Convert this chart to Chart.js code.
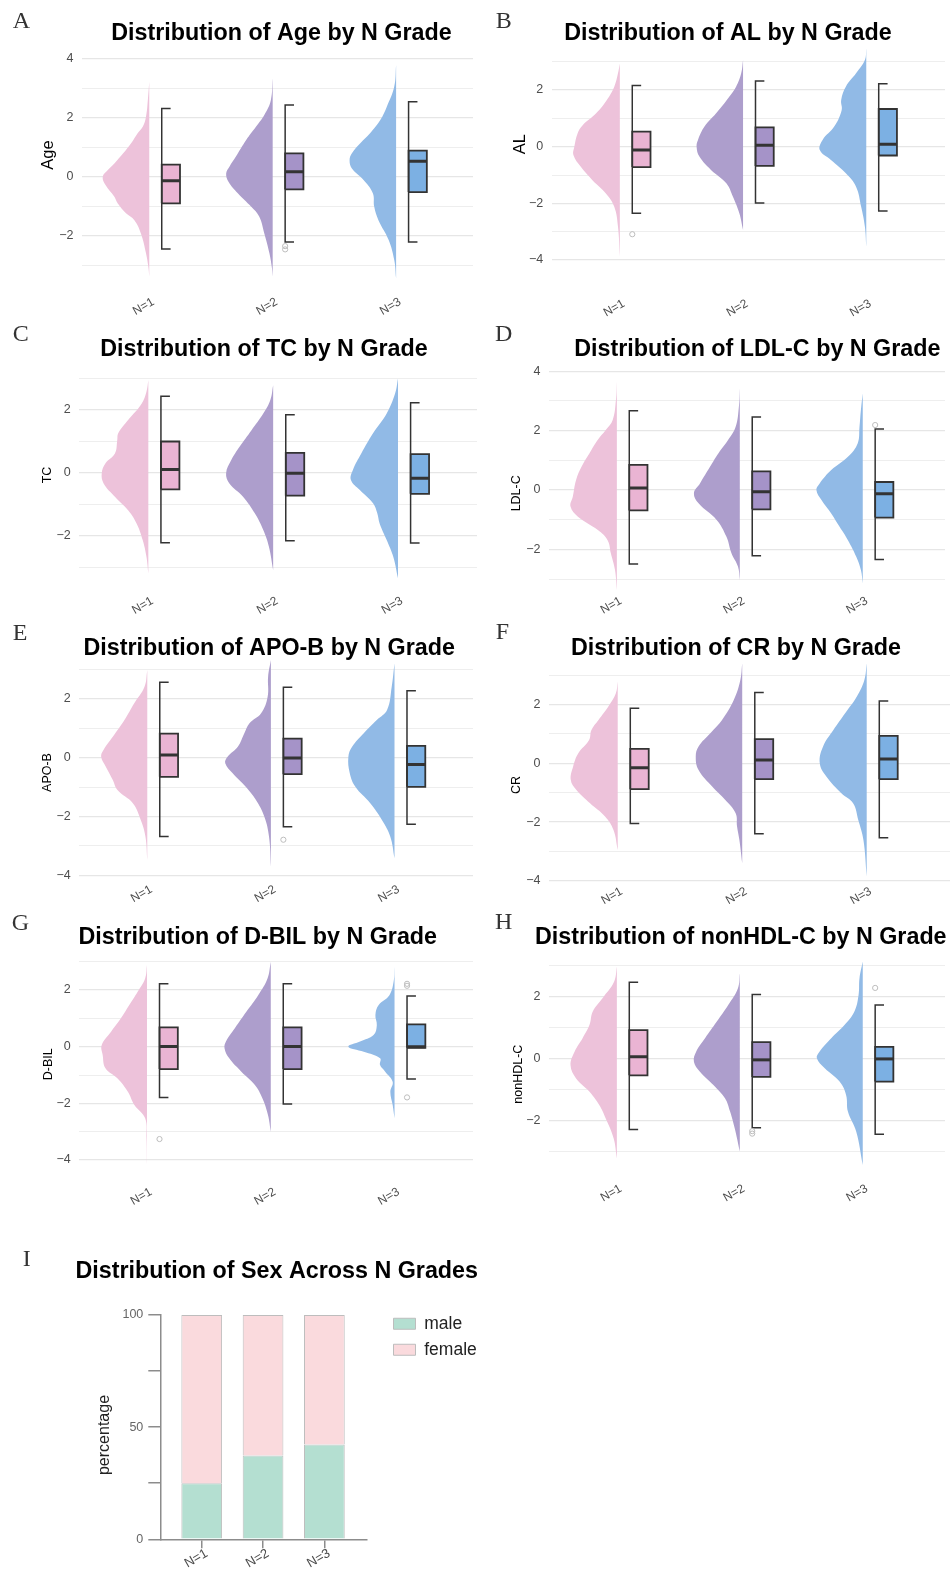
<!DOCTYPE html>
<html>
<head>
<meta charset="utf-8">
<title>Distribution by N Grade</title>
<script src="https://cdn.jsdelivr.net/npm/chart.js@4.4.1/dist/chart.umd.min.js"></script>
<style>
  html, body { margin: 0; padding: 0; background: #ffffff; }
  #board { position: relative; width: 950px; height: 1571px; overflow: hidden; background: #ffffff; }
  #board canvas { position: absolute; }
</style>
</head>
<body>
<div id="board"></div>
<script>
// ---------------- data ----------------
const grades = ['N=1', 'N=2', 'N=3'];

// density outlines: [value, relative half-width] from upper tip to lower tip
// box statistics: [lower whisker, Q1, median, Q3, upper whisker]

// Age
const ageDensity = [
  [[3.21,0],[2.6,.03],[2.03,.07],[1.69,.14],[1.47,.25],[1.13,.39],[.79,.56],[.45,.75],[.23,.89],[0,1],[-.28,.94],[-.68,.75],[-.9,.68],[-1.24,.5],[-1.47,.32],[-1.92,.18],[-2.59,.07],[-3.05,.02],[-3.38,0]],
  [[3.33,0],[2.59,.04],[2.09,.18],[1.69,.36],[1.24,.57],[.68,.79],[.34,.93],[.11,1],[-.17,.95],[-.56,.75],[-1.02,.46],[-1.35,.29],[-1.92,.18],[-2.59,.07],[-3.05,.02],[-3.38,0]],
  [[3.78,0],[3.05,.04],[2.37,.2],[1.92,.34],[1.47,.56],[1.13,.77],[.79,.95],[.56,1],[.28,.95],[-.11,.7],[-.56,.5],[-1.02,.47],[-1.47,.38],[-2.14,.16],[-2.82,.04],[-3.44,0]]
];
const ageBox = [[-2.45,-.90,-.135,.41,2.31],[-2.21,-.43,.17,.79,2.43],[-2.21,-.52,.52,.88,2.54]];
const ageOutliers = [[],[-2.35,-2.46],[]];
const ageTicks = [-3,-2,-1,0,1,2,3,4];
const ageTickLabels = ['','−2','','0','','2','','4'];

// AL
const alDensity = [
  [[2.94,0],[2.59,.04],[2.12,.12],[1.65,.28],[1.18,.51],[.76,.8],[.47,.91],[0,.98],[-.29,1],[-.71,.84],[-1.18,.59],[-1.65,.3],[-2.12,.12],[-2.82,.04],[-3.88,0]],
  [[3.06,0],[2.59,.04],[2.12,.15],[1.65,.35],[1.18,.58],[.71,.83],[.24,.97],[0,1],[-.35,.94],[-.82,.69],[-1.29,.36],[-1.76,.22],[-2.35,.08],[-2.94,0]],
  [[3.47,0],[3.06,.03],[2.59,.22],[2.12,.44],[1.65,.54],[1.29,.53],[.71,.69],[.24,.94],[-.12,1],[-.47,.76],[-.94,.44],[-1.41,.22],[-2.12,.11],[-2.82,.03],[-3.53,0]]
];
const alBox = [[-2.35,-.72,-.12,.53,2.16],[-1.99,-.68,.05,.68,2.32],[-2.27,-.31,.09,1.33,2.22]];
const alOutliers = [[-3.09],[],[]];
const alTicks = [-4,-3,-2,-1,0,1,2,3];
const alTickLabels = ['−4','','−2','','0','','2',''];

// TC
const tcDensity = [
  [[2.94,0],[2.57,.04],[2.2,.14],[1.67,.43],[1.25,.64],[1.04,.66],[.61,.71],[.3,.91],[-.02,.99],[-.34,.95],[-.76,.71],[-1.19,.43],[-1.61,.25],[-2.14,.12],[-2.67,.04],[-3.2,0]],
  [[2.78,0],[2.31,.06],[1.88,.21],[1.35,.46],[.83,.71],[.4,.89],[-.02,1],[-.34,.93],[-.76,.64],[-1.29,.39],[-1.82,.21],[-2.35,.09],[-3.09,0]],
  [[2.99,0],[2.52,.06],[1.88,.24],[1.25,.53],[.61,.78],[.08,.96],[-.23,1],[-.55,.81],[-.97,.53],[-1.29,.44],[-1.61,.39],[-2.14,.24],[-2.67,.1],[-3.35,0]]
];
const tcBox = [[-2.22,-.53,.10,.99,2.43],[-2.16,-.73,-.02,.63,1.84],[-2.23,-.67,-.18,.59,2.22]];
const tcOutliers = [[],[],[]];
const tcTicks = [-3,-2,-1,0,1,2,3];
const tcTickLabels = ['','−2','','0','','2',''];

// LDL-C
const ldlDensity = [
  [[3.65,0],[3.03,.02],[2.36,.09],[2.02,.24],[1.69,.41],[1.24,.59],[.79,.76],[.34,.88],[-.22,.95],[-.56,1],[-.9,.84],[-1.35,.41],[-1.69,.2],[-2.13,.13],[-2.7,.04],[-3.37,0]],
  [[3.43,0],[2.81,.02],[2.13,.09],[1.69,.25],[1.24,.46],[.79,.64],[.22,.86],[-.11,.99],[-.45,.89],[-1.01,.5],[-1.57,.29],[-2.13,.18],[-2.58,.04],[-3.03,0]],
  [[3.26,0],[2.7,.04],[2.13,.07],[1.57,.11],[1.12,.32],[.67,.68],[.22,.93],[0,1],[-.34,.89],[-.79,.68],[-1.24,.5],[-1.69,.32],[-2.25,.14],[-2.7,.04],[-3.15,0]]
];
const ldlBox = [[-2.49,-.69,.07,.85,2.67],[-2.22,-.65,-.06,.63,2.46],[-2.34,-.93,-.13,.27,2.06]];
const ldlOutliers = [[],[],[2.19]];
const ldlTicks = [-3,-2,-1,0,1,2,3,4];
const ldlTickLabels = ['','−2','','0','','2','','4'];

// APO-B
const apoDensity = [
  [[2.98,0],[2.41,.06],[1.85,.28],[1.28,.49],[.71,.74],[.26,.94],[.03,.99],[-.31,.89],[-.76,.74],[-1.1,.64],[-1.55,.31],[-2.12,.14],[-2.68,.04],[-3.48,0]],
  [[3.32,0],[2.75,.06],[2.07,.07],[1.51,.21],[1.17,.46],[.83,.57],[.37,.71],[.03,.93],[-.19,.98],[-.53,.82],[-.99,.54],[-1.44,.32],[-2.01,.14],[-2.69,.04],[-3.71,0]],
  [[3.21,0],[2.41,.06],[1.62,.16],[1.28,.38],[.83,.66],[.37,.91],[.03,.99],[-.53,.96],[-.99,.84],[-1.55,.52],[-2.12,.27],[-2.69,.09],[-3.42,0]]
];
const apoBox = [[-2.68,-.65,.09,.82,2.57],[-2.35,-.56,-.01,.65,2.40],[-2.26,-.99,-.23,.40,2.28]];
const apoOutliers = [[],[-2.79],[]];
const apoTicks = [-4,-3,-2,-1,0,1,2,3];
const apoTickLabels = ['−4','','−2','','0','','2',''];

// CR
const crDensity = [
  [[2.78,0],[2.38,.04],[1.93,.2],[1.47,.41],[1.13,.56],[.79,.61],[.34,.84],[-.11,.95],[-.57,1],[-.91,.88],[-1.36,.59],[-1.81,.27],[-2.27,.09],[-2.95,0]],
  [[3.4,0],[2.83,.04],[2.15,.18],[1.47,.43],[1.02,.68],[.57,.93],[.23,.99],[-.23,.93],[-.79,.64],[-1.25,.36],[-1.7,.14],[-2.15,.11],[-2.61,.06],[-3.4,0]],
  [[3.4,0],[2.83,.05],[2.27,.21],[1.7,.46],[1.13,.71],[.57,.93],[0,1],[-.45,.86],[-1.02,.54],[-1.36,.29],[-1.93,.18],[-2.61,.07],[-3.85,0]]
];
const crBox = [[-2.05,-.88,-.15,.49,1.87],[-2.40,-.54,.11,.82,2.41],[-2.53,-.54,.15,.93,2.12]];
const crOutliers = [[],[],[]];
const crTicks = [-4,-3,-2,-1,0,1,2,3];
const crTickLabels = ['−4','','−2','','0','','2',''];

// D-BIL
const dbilDensity = [
  [[2.88,0],[2.41,.04],[1.94,.2],[1.47,.38],[1,.56],[.53,.77],[.06,.97],[-.29,.95],[-.76,.89],[-1.12,.63],[-1.59,.41],[-2.06,.27],[-2.53,.04],[-3.24,.01],[-4.18,0]],
  [[3,0],[2.41,.07],[1.82,.27],[1.24,.52],[.65,.77],[.18,.96],[-.06,.99],[-.41,.89],[-.88,.63],[-1.35,.34],[-1.82,.18],[-2.41,.06],[-3,0]],
  [[2.82,0],[2.29,.02],[1.82,.11],[1.47,.34],[1.12,.41],[.76,.38],[.41,.45],[.18,.74],[0,.99],[-.18,.66],[-.41,.31],[-.65,.31],[-.88,.2],[-1.24,.04],[-1.59,.09],[-2.06,.04],[-2.53,0]]
];
const dbilBox = [[-1.79,-.79,.01,.68,2.22],[-2.02,-.79,.01,.68,2.22],[-1.14,-.04,.0,.79,1.79]];
const dbilOutliers = [[-3.26],[],[2.15,2.22,-1.79]];
const dbilTicks = [-4,-3,-2,-1,0,1,2,3];
const dbilTickLabels = ['−4','','−2','','0','','2',''];

// nonHDL-C
const nhdlDensity = [
  [[2.96,0],[2.47,.06],[1.94,.31],[1.51,.52],[1.08,.59],[.65,.74],[.22,.91],[-.22,1],[-.65,.88],[-1.08,.59],[-1.51,.38],[-1.94,.24],[-2.58,.07],[-3.23,0]],
  [[2.74,0],[2.26,.04],[1.72,.25],[1.18,.5],[.65,.75],[.22,.94],[-.11,.99],[-.43,.86],[-.86,.57],[-1.29,.32],[-1.72,.21],[-2.26,.11],[-3.01,0]],
  [[3.12,0],[2.58,.07],[2.04,.09],[1.51,.18],[1.08,.39],[.65,.68],[.22,.93],[0,.99],[-.32,.82],[-.75,.5],[-1.18,.36],[-1.72,.32],[-2.37,.14],[-3.44,0]]
];
const nhdlBox = [[-2.30,-.55,.05,.91,2.45],[-2.24,-.60,-.05,.52,2.06],[-2.45,-.75,-.02,.37,1.72]];
const nhdlOutliers = [[],[-2.35,-2.43],[2.27]];
const nhdlTicks = [-3,-2,-1,0,1,2,3];
const nhdlTickLabels = ['','−2','','0','','2',''];

// Sex (percentage within each grade)
const sexLabels = ['male', 'female'];
const malePct = [25.0, 37.4, 42.3];
const femalePct = [75.0, 62.6, 57.7];
const pctTicks = [0, 25, 50, 75, 100];
const pctTickLabels = ['0', '', '50', '', '100'];

// ---------------- styling ----------------
Chart.defaults.font.family = "'Liberation Sans', Arial, Helvetica, sans-serif";
const SANS = "'Liberation Sans', Arial, Helvetica, sans-serif";
const SERIF = "'Liberation Serif', 'DejaVu Serif', serif";
const violinFill = ['#edc2da', '#ad9ecc', '#91bae6'];
const boxFill = ['#eab4d3', '#a593c8', '#7cb0e3'];
const INK = '#333333';
const TICK_GREY = '#4d4d4d';
const VIOLIN_HALF = 0.377, BOX_L = 0.101, BOX_R = 0.249, CAP = 0.072;

const board = document.getElementById('board');

// titles, panel letters and y-axis titles
const panelText = {
  id: 'panelText',
  afterDraw(chart, args, o) {
    const ctx = chart.ctx;
    ctx.save();
    ctx.textBaseline = 'middle';
    ctx.fillStyle = '#000';
    ctx.textAlign = 'center';
    ctx.font = 'bold 23.3px ' + SANS;
    ctx.fillText(o.title, o.titleX, o.titleY);
    ctx.textAlign = 'left';
    ctx.fillStyle = '#333';
    ctx.font = '24px ' + SERIF;
    ctx.fillText(o.letter, o.letterX, o.letterY);
    ctx.translate(o.yTitleX, o.yTitleY);
    ctx.rotate(-Math.PI / 2);
    ctx.textAlign = 'center';
    ctx.fillStyle = o.yTitleColor || '#000';
    ctx.font = o.yTitleSize + 'px ' + SANS;
    ctx.fillText(o.yTitle, 0, 0);
    ctx.restore();
  }
};

function makeCanvas(rect) {
  const cv = document.createElement('canvas');
  cv.width = rect[2];
  cv.height = rect[3];
  cv.style.left = rect[0] + 'px';
  cv.style.top = rect[1] + 'px';
  board.appendChild(cv);
  return cv;
}

function raincloud(p) {
  const [cx, cy, cw, ch] = p.rect;
  const cv = makeCanvas(p.rect);
  const [ymin, ymax] = p.yRange;
  const topPx = p.zero - ymax * p.unit - cy;
  const bottomPx = p.zero - ymin * p.unit - cy;

  const datasets = [];
  grades.forEach((g, i) => {
    const c = i + 1;
    const [lo, q1, med, q3, hi] = p.box[i];
    datasets.push({
      data: p.density[i].map(([v, w]) => ({ x: c - w * VIOLIN_HALF, y: v })),
      fill: 'shape', backgroundColor: violinFill[i], borderWidth: 0, borderColor: 'rgba(0,0,0,0)',
      pointRadius: 0, tension: 0.4, order: 4
    });
    datasets.push({
      data: [{ x: c + BOX_L, y: q1 }, { x: c + BOX_R, y: q1 }, { x: c + BOX_R, y: q3 }, { x: c + BOX_L, y: q3 }, { x: c + BOX_L, y: q1 }],
      fill: 'shape', backgroundColor: boxFill[i], borderColor: INK, borderWidth: 1.8,
      pointRadius: 0, tension: 0, order: 3
    });
    datasets.push({
      data: [{ x: c + BOX_L + CAP, y: hi }, { x: c + BOX_L, y: hi }, { x: c + BOX_L, y: lo }, { x: c + BOX_L + CAP, y: lo }],
      fill: false, borderColor: INK, borderWidth: 1.5, pointRadius: 0, tension: 0, order: 2
    });
    datasets.push({
      data: [{ x: c + BOX_L, y: med }, { x: c + BOX_R, y: med }],
      fill: false, borderColor: INK, borderWidth: 3, pointRadius: 0, tension: 0, order: 1
    });
    datasets.push({
      data: p.outliers[i].map(v => ({ x: c + BOX_L, y: v })),
      showLine: false, pointRadius: 2.6, pointBorderColor: '#bdbdbd',
      pointBackgroundColor: 'rgba(0,0,0,0)', pointBorderWidth: 1, order: 0
    });
  });

  new Chart(cv, {
    type: 'line',
    data: { datasets },
    options: {
      responsive: false, animation: false, events: [],
      layout: { padding: { top: topPx, left: 0, right: cw - (p.plot[1] - cx), bottom: 0 } },
      plugins: {
        legend: { display: false }, tooltip: { enabled: false }, title: { display: false },
        panelText: {
          title: p.title, titleX: p.titlePos[0] - cx, titleY: p.titlePos[1] - cy,
          letter: p.letter, letterX: p.letterPos[0] - cx, letterY: p.letterPos[1] - cy,
          yTitle: p.yTitle, yTitleX: p.yTitlePos[0] - cx, yTitleY: p.yTitlePos[1] - cy,
          yTitleSize: p.yTitleSize
        }
      },
      scales: {
        x: {
          type: 'linear', bounds: 'data', offset: false, min: p.xRange[0], max: p.xRange[1],
          afterBuildTicks: s => { s.ticks = grades.map((g, i) => ({ value: i + 1 })); },
          afterFit: s => { s.height = ch - bottomPx; },
          grid: { display: false, drawTicks: false, offset: false },
          border: { display: false },
          ticks: {
            autoSkip: false, minRotation: 30, maxRotation: 30, labelOffset: 4,
            padding: p.labelY - cy - bottomPx - 11.8,
            color: TICK_GREY, font: { size: 12 },
            callback: (v, i) => grades[i]
          }
        },
        y: {
          type: 'linear', bounds: 'data', min: ymin, max: ymax,
          afterBuildTicks: s => { s.ticks = p.ticks.map(v => ({ value: v })); },
          afterFit: s => { s.width = p.plot[0] - cx; },
          grid: {
            drawTicks: false,
            color: ctx => (p.tickLabels[ctx.index] ? '#e6e6e6' : '#eeeeee'),
            lineWidth: ctx => (p.tickLabels[ctx.index] ? 1.2 : 1)
          },
          border: { display: false },
          ticks: {
            autoSkip: false, padding: 8.5, color: TICK_GREY, font: { size: 12.5 },
            callback: (v, i) => p.tickLabels[i]
          }
        }
      }
    },
    plugins: [panelText]
  });
}

const panels = [
  { letter: 'A', title: 'Distribution of Age by N Grade', yTitle: 'Age',
    density: ageDensity, box: ageBox, outliers: ageOutliers, ticks: ageTicks, tickLabels: ageTickLabels,
    rect: [0, 0, 478, 320], plot: [82, 477], zero: 176.7, unit: 29.55, yRange: [-3.8, 4.2], xRange: [0.455, 3.623],
    labelY: 306.7, titlePos: [281.5, 33.3], letterPos: [12.7, 21.3], yTitlePos: [48, 155], yTitleSize: 16.5 },
  { letter: 'B', title: 'Distribution of AL by N Grade', yTitle: 'AL',
    density: alDensity, box: alBox, outliers: alOutliers, ticks: alTicks, tickLabels: alTickLabels,
    rect: [475, 0, 475, 320], plot: [551.7, 950], zero: 146.7, unit: 28.33, yRange: [-4.3, 3.7], xRange: [0.447, 3.639],
    labelY: 308.3, titlePos: [728, 33.3], letterPos: [495.7, 21.7], yTitlePos: [520, 144.2], yTitleSize: 16.5 },
  { letter: 'C', title: 'Distribution of TC by N Grade', yTitle: 'TC',
    density: tcDensity, box: tcBox, outliers: tcOutliers, ticks: tcTicks, tickLabels: tcTickLabels,
    rect: [0, 320, 478, 300], plot: [79.3, 477], zero: 472.7, unit: 31.5, yRange: [-3.5, 3.3], xRange: [0.447, 3.633],
    labelY: 605.7, titlePos: [264, 349.3], letterPos: [12.7, 335], yTitlePos: [48, 475], yTitleSize: 12.5 },
  { letter: 'D', title: 'Distribution of LDL-C by N Grade', yTitle: 'LDL-C',
    density: ldlDensity, box: ldlBox, outliers: ldlOutliers, ticks: ldlTicks, tickLabels: ldlTickLabels,
    rect: [475, 320, 475, 300], plot: [549, 950], zero: 490, unit: 29.67, yRange: [-3.5, 4.1], xRange: [0.448, 3.669],
    labelY: 605.5, titlePos: [757.3, 349.3], letterPos: [495, 334.7], yTitlePos: [516.7, 493.3], yTitleSize: 12.5 },
  { letter: 'E', title: 'Distribution of APO-B by N Grade', yTitle: 'APO-B',
    density: apoDensity, box: apoBox, outliers: apoOutliers, ticks: apoTicks, tickLabels: apoTickLabels,
    rect: [0, 620, 478, 285], plot: [79.3, 477], zero: 757.7, unit: 29.4, yRange: [-4.2, 3.4], xRange: [0.45, 3.635],
    labelY: 894, titlePos: [269.2, 649], letterPos: [12.7, 633.3], yTitlePos: [48, 772.5], yTitleSize: 12.5 },
  { letter: 'F', title: 'Distribution of CR by N Grade', yTitle: 'CR',
    density: crDensity, box: crBox, outliers: crOutliers, ticks: crTicks, tickLabels: crTickLabels,
    rect: [475, 620, 475, 285], plot: [549, 950], zero: 763.3, unit: 29.4, yRange: [-4.2, 3.5], xRange: [0.448, 3.669],
    labelY: 896, titlePos: [736, 649], letterPos: [495.7, 633], yTitlePos: [516.7, 785], yTitleSize: 12.5 },
  { letter: 'G', title: 'Distribution of D-BIL by N Grade', yTitle: 'D-BIL',
    density: dbilDensity, box: dbilBox, outliers: dbilOutliers, ticks: dbilTicks, tickLabels: dbilTickLabels,
    rect: [0, 905, 478, 310], plot: [79.3, 477], zero: 1046.7, unit: 28.33, yRange: [-4.3, 3.3], xRange: [0.453, 3.634],
    labelY: 1196.7, titlePos: [257.8, 937.7], letterPos: [11.7, 923.3], yTitlePos: [48.3, 1064.2], yTitleSize: 12.5 },
  { letter: 'H', title: 'Distribution of nonHDL-C by N Grade', yTitle: 'nonHDL-C',
    density: nhdlDensity, box: nhdlBox, outliers: nhdlOutliers, ticks: nhdlTicks, tickLabels: nhdlTickLabels,
    rect: [475, 905, 475, 310], plot: [549, 950], zero: 1058.3, unit: 31, yRange: [-3.6, 3.3], xRange: [0.448, 3.669],
    labelY: 1193.3, titlePos: [740.8, 937.7], letterPos: [495, 923], yTitlePos: [518.3, 1074.2], yTitleSize: 12.5 }
];
panels.forEach(raincloud);

// ---------------- stacked percentage bars ----------------
const legendPlace = {
  id: 'legendPlace',
  afterLayout(chart, args, o) {
    const lg = chart.legend;
    if (!lg) return;
    const dx = o.left - lg.left, dy = o.top - lg.top;
    lg.left += dx; lg.right += dx; lg.top += dy; lg.bottom += dy;
  }
};

(function sexBars() {
  const rect = [0, 1230, 500, 341];
  const cv = makeCanvas(rect);
  const axisGrey = '#8c8c8c';
  new Chart(cv, {
    type: 'bar',
    data: {
      datasets: [
        { label: sexLabels[0], data: malePct.map((v, i) => ({ x: i + 1, y: v })),
          backgroundColor: '#b4dfd1', borderColor: '#bdbdbd', borderWidth: 1 },
        { label: sexLabels[1], data: femalePct.map((v, i) => ({ x: i + 1, y: v })),
          backgroundColor: '#fadadd', borderColor: '#bdbdbd', borderWidth: 1 }
      ]
    },
    options: {
      responsive: false, animation: false, events: [],
      categoryPercentage: 1, barPercentage: 0.664,
      layout: { padding: { top: 85, left: 0, right: 500 - 366.7, bottom: 0 } },
      plugins: {
        tooltip: { enabled: false },
        legend: {
          position: 'chartArea', align: 'start',
          labels: { boxWidth: 22, boxHeight: 11, padding: 8.5, color: '#222', font: { size: 17.5 } }
        },
        legendPlace: { left: 385, top: 76.5 },
        panelText: {
          title: 'Distribution of Sex Across N Grades', titleX: 276.7, titleY: 41.7,
          letter: 'I', letterX: 22.7, letterY: 29.5,
          yTitle: 'percentage', yTitleX: 105, yTitleY: 205, yTitleSize: 16, yTitleColor: '#222'
        }
      },
      scales: {
        x: {
          type: 'linear', stacked: true, bounds: 'data', offset: false, min: 0.336, max: 3.69,
          afterBuildTicks: s => { s.ticks = grades.map((g, i) => ({ value: i + 1 })); },
          afterFit: s => { s.height = 341 - 309.3; },
          grid: { drawOnChartArea: false, drawTicks: true, tickLength: 9, color: axisGrey, lineWidth: 1.5, offset: false },
          border: { display: true, color: axisGrey, width: 1.5 },
          ticks: {
            autoSkip: false, minRotation: 30, maxRotation: 30, labelOffset: 4.9, padding: -2.5,
            color: TICK_GREY, font: { size: 13 }, callback: (v, i) => grades[i]
          }
        },
        y: {
          type: 'linear', stacked: true, bounds: 'data', min: 0, max: 100,
          afterBuildTicks: s => { s.ticks = pctTicks.map(v => ({ value: v })); },
          afterFit: s => { s.width = 161; },
          grid: { drawOnChartArea: false, drawTicks: true, tickLength: 12.7, color: axisGrey, lineWidth: 1.5 },
          border: { display: true, color: axisGrey, width: 1.5 },
          ticks: {
            autoSkip: false, padding: 5, color: '#666', font: { size: 12.5 },
            callback: (v, i) => pctTickLabels[i]
          }
        }
      }
    },
    plugins: [panelText, legendPlace]
  });
})();
</script>
</body>
</html>
